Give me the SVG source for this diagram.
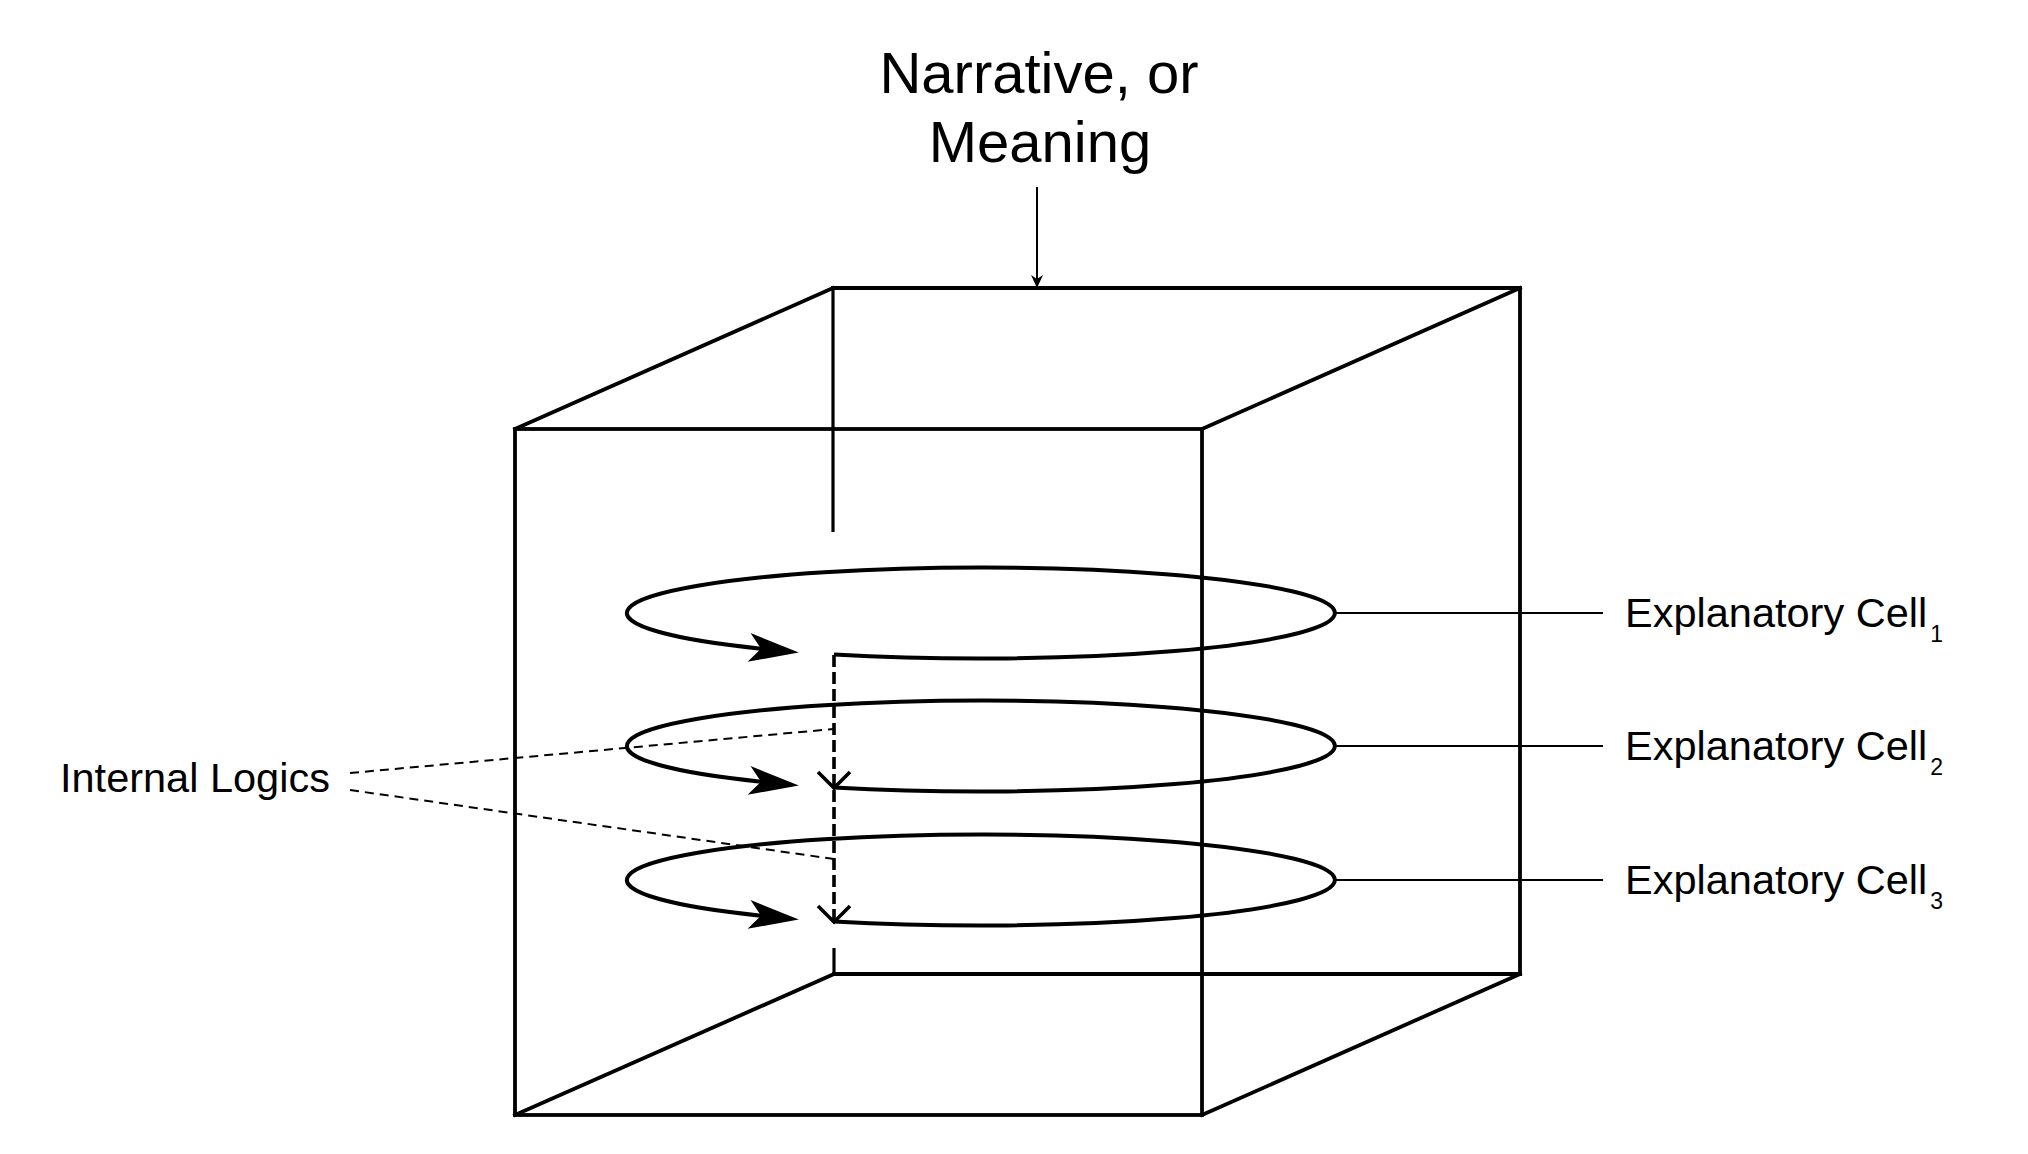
<svg xmlns="http://www.w3.org/2000/svg" width="2028" height="1154" viewBox="0 0 2028 1154">
<style>
.edge{stroke:#000;stroke-width:3.8;fill:none;stroke-linecap:square}
.inner{stroke:#000;stroke-width:3.2;fill:none}
.loop{stroke:#000;stroke-width:4;fill:none;marker-end:url(#stealth)}
.flow{stroke:#000;stroke-width:3.6;fill:none;stroke-dasharray:12 5;marker-end:url(#vee)}
.logic{stroke:#000;stroke-width:2;fill:none;stroke-dasharray:9 6}
.lead{stroke:#000;stroke-width:2;fill:none}
.lbl{font-family:"Liberation Sans",Arial,Helvetica,sans-serif;fill:#000}
</style>
<defs>
<marker id="stealth" markerUnits="userSpaceOnUse" viewBox="0 0 50 30" markerWidth="50" markerHeight="30" refX="12" refY="15" orient="auto" overflow="visible">
<path d="M0,0.5 L50,15 L0,29.5 L12,15 Z" fill="#000"/>
</marker>
<marker id="vee" markerUnits="userSpaceOnUse" viewBox="-20 -20 24 40" markerWidth="24" markerHeight="40" refX="0" refY="0" orient="auto" overflow="visible">
<path d="M-16,-16 L0,0 L-16,16" fill="none" stroke="#000" stroke-width="3.6"/>
</marker>
<marker id="small" markerUnits="userSpaceOnUse" viewBox="0 0 13 12" markerWidth="13" markerHeight="12" refX="4" refY="6" orient="auto" overflow="visible">
<path d="M0,0 L13,6 L0,12 L4,6 Z" fill="#000"/>
</marker>
</defs>
<rect width="2028" height="1154" fill="#fff"/>

<g id="cube">
<line class="edge" x1="833" y1="288" x2="1520" y2="288"/>
<line class="edge" x1="515" y1="429" x2="833" y2="288"/>
<line class="edge" x1="1202" y1="429" x2="1520" y2="288"/>
<line class="edge" x1="1520" y1="288" x2="1520" y2="974"/>
<line class="edge" x1="834" y1="974" x2="1520" y2="974"/>
<line class="edge" x1="515" y1="1115" x2="834" y2="974"/>
<line class="edge" x1="1202" y1="1115" x2="1520" y2="974"/>
<line class="inner" x1="833" y1="288" x2="833" y2="532"/>
<line class="inner" x1="834" y1="948" x2="834" y2="974"/>
<rect class="edge" x="515" y="429" width="687" height="686"/>
</g>

<g id="cell1">
<path class="loop" d="M834,654.39 A354,45.5 0 1 0 761,648.65"/>
</g>
<g id="cell2">
<path class="loop" d="M834,787.39 A354,45.5 0 1 0 761,781.65"/>
</g>
<g id="cell3">
<path class="loop" d="M834,921.39 A354,45.5 0 1 0 761,915.65"/>
</g>

<g id="connectors">
<line class="lead" x1="1037" y1="187" x2="1037" y2="279" marker-end="url(#small)"/>
<line class="flow" x1="834" y1="655" x2="834" y2="788"/>
<line class="flow" x1="834" y1="790" x2="834" y2="922"/>
<line class="logic" x1="350" y1="773" x2="834" y2="729"/>
<line class="logic" x1="350" y1="790" x2="834" y2="859"/>
<line class="lead" x1="1335" y1="613" x2="1603" y2="613"/>
<line class="lead" x1="1335" y1="746" x2="1603" y2="746"/>
<line class="lead" x1="1335" y1="880" x2="1603" y2="880"/>
</g>

<g id="title">
<text class="lbl" x="1039" y="93" font-size="58" text-anchor="middle">Narrative, or</text>
<text class="lbl" x="1040" y="162" font-size="58" text-anchor="middle">Meaning</text>
</g>
<g id="label-internal">
<text class="lbl" x="60" y="792" font-size="41.5">Internal Logics</text>
</g>
<g id="label-cell1">
<text class="lbl" x="1625" y="627" font-size="41.5">Explanatory Cell<tspan dx="3" dy="15" font-size="23">1</tspan></text>
</g>
<g id="label-cell2">
<text class="lbl" x="1625" y="760" font-size="41.5">Explanatory Cell<tspan dx="3" dy="15" font-size="23">2</tspan></text>
</g>
<g id="label-cell3">
<text class="lbl" x="1625" y="894" font-size="41.5">Explanatory Cell<tspan dx="3" dy="15" font-size="23">3</tspan></text>
</g>
</svg>
